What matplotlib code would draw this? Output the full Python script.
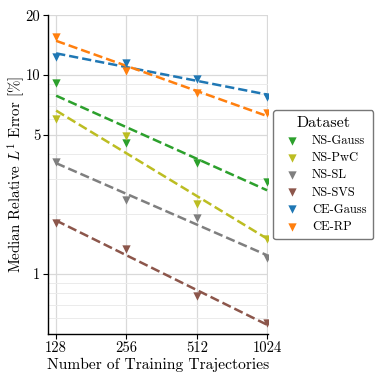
import numpy as np
import matplotlib
matplotlib.use("Agg")
import matplotlib.pyplot as plt
from matplotlib.ticker import FixedLocator, NullFormatter, LogLocator

plt.rcParams["font.family"] = ["cmr10", "DejaVu Serif"]
plt.rcParams["mathtext.fontset"] = "cm"
plt.rcParams["axes.unicode_minus"] = False
plt.rcParams["axes.formatter.use_mathtext"] = True

n_traj = [128, 256, 512, 1024]
datasets = ["NS-Gauss", "NS-PwC", "NS-SL", "NS-SVS", "CE-Gauss", "CE-RP"]
colors = ["#2ca02c", "#bcbd22", "#7f7f7f", "#8c564b", "#1f77b4", "#ff7f0e"]

ns_gauss = [9.09, 4.54, 3.60, 2.91]
ns_pwc = [5.99, 4.94, 2.25, 1.50]
ns_sl = [3.68, 2.37, 1.91, 1.21]
ns_svs = [1.81, 1.34, 0.775, 0.569]
ce_gauss = [12.4, 11.5, 9.51, 7.78]
ce_rp = [15.6, 10.5, 8.09, 6.47]
errors = [ns_gauss, ns_pwc, ns_sl, ns_svs, ce_gauss, ce_rp]

fig = plt.figure(figsize=(3.8, 3.8), dpi=100)
ax = fig.add_axes([0.126, 0.121, 0.579, 0.839])

x = np.array(n_traj, dtype=float)
for name, err, c in zip(datasets, errors, colors):
    y = np.array(err)
    # power-law fit in log-log space
    slope, icpt = np.polyfit(np.log(x), np.log(y), 1)
    ax.plot(x, np.exp(icpt) * x ** slope, "--", color=c, lw=1.8, zorder=2)
    ax.scatter(x, y, marker="v", s=36, color=c, label=name, zorder=3, linewidths=0)

ax.set_xscale("log", base=2)
ax.set_yscale("log")
ax.set_xlim(118, 1032)
ax.set_ylim(0.5, 20)
ax.xaxis.set_major_locator(FixedLocator(n_traj))
ax.set_xticklabels([str(v) for v in n_traj])
ax.xaxis.set_minor_locator(FixedLocator([]))
ax.yaxis.set_major_locator(FixedLocator([1, 5, 10, 20]))
ax.set_yticklabels(["1", "5", "10", "20"])
ax.yaxis.set_minor_locator(LogLocator(base=10, subs=np.arange(2, 10)))
ax.yaxis.set_minor_formatter(NullFormatter())
ax.tick_params(axis="both", which="major", labelsize=10.5, length=3.5, width=0.8, pad=2)
ax.tick_params(axis="y", which="minor", length=0)

ax.grid(True, which="major", color="#d9d9d9", lw=0.9)
ax.grid(True, which="minor", axis="y", color="#ebebeb", lw=0.7)
ax.set_axisbelow(True)
for s in ["top", "right"]:
    ax.spines[s].set_visible(False)
for s in ["left", "bottom"]:
    ax.spines[s].set_linewidth(1.0)
    ax.spines[s].set_color("black")

ax.set_xlabel("Number of Training Trajectories", fontsize=11.2, labelpad=2)
ax.set_ylabel(r"Median Relative $L^1$ Error [%]", fontsize=10.8)
ax.yaxis.set_label_coords(-0.095, 0.5)

leg = ax.legend(title="Dataset", loc="center left", bbox_to_anchor=(1.025, 0.50),
                fontsize=9, title_fontsize=11.5, frameon=True, fancybox=True,
                edgecolor="#555555", handletextpad=0.6, borderpad=0.5,
                labelspacing=0.4, borderaxespad=0)
leg.get_frame().set_linewidth(1.0)

fig.savefig("out.png", dpi=100)
